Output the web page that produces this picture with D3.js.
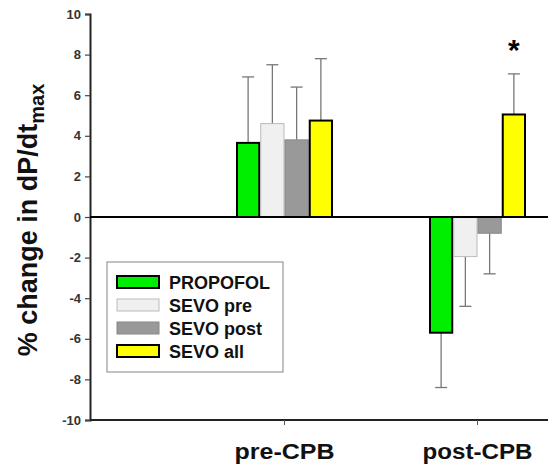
<!DOCTYPE html>
<html>
<head>
<meta charset="utf-8">
<script src="https://cdn.jsdelivr.net/npm/d3@7"></script>
<style>
  body { margin: 0; background: #fff; }
  svg { display: block; font-family: "Liberation Sans", Arial, sans-serif; font-weight: bold; }
</style>
</head>
<body>
<svg></svg>
<script>
// tamaño
var width = 548;
var height = 469;

// los datos
var categories = ["pre-CPB", "post-CPB"];
var series = ["PROPOFOL", "SEVO pre", "SEVO post", "SEVO all"];
var means = [
  [3.65, 4.6, 3.8, 4.75],
  [-5.7, -1.95, -0.8, 5.05]
];
var errTops = [
  [6.9, 7.5, 6.4, 7.8],
  [-8.4, -4.4, -2.8, 7.05]
];
var yTicks = [-10, -8, -6, -4, -2, 0, 2, 4, 6, 8, 10];
var colors = ["#00ee00", "#f0f0f0", "#999999", "#ffff00"];
var strokes = ["#000", "#bbb", "#888", "#000"];
var strokeW = [2, 1, 1, 2];

var svg = d3.select("svg")
  .attr("width", width)
  .attr("height", height);

var x0 = 90;
var y = d3.scaleLinear().domain([-10, 10]).range([420, 14]);
var x = d3.scaleBand().domain(categories).range([188, 574]);
var x1 = d3.scaleBand().domain(series).range([0, 97]);

// eje y
var yAxis = svg.append("g")
  .attr("transform", "translate(" + x0 + ",0)")
  .call(d3.axisLeft(y).tickValues(yTicks).tickSize(5).tickPadding(4)
    .tickFormat(function(d) { return String(d); }));
yAxis.select(".domain").attr("stroke", "#222").attr("stroke-width", 2);
yAxis.selectAll(".tick line").attr("stroke", "#444").attr("stroke-width", 1.2);
yAxis.selectAll(".tick text")
  .attr("font-size", 13)
  .attr("font-weight", "bold")
  .attr("fill", "#333");

// eje x abajo
svg.append("line")
  .attr("x1", x0).attr("x2", width)
  .attr("y1", y(-10)).attr("y2", y(-10))
  .attr("stroke", "#222").attr("stroke-width", 2);
var xg = svg.append("g");
xg.selectAll("line")
  .data(categories)
  .enter()
  .append("line")
  .attr("x1", function(d) { return x(d) + x.bandwidth() / 2; })
  .attr("x2", function(d) { return x(d) + x.bandwidth() / 2; })
  .attr("y1", y(-10))
  .attr("y2", y(-10) + 5)
  .attr("stroke", "#555");
xg.selectAll("text")
  .data(categories)
  .enter()
  .append("text")
  .attr("x", function(d) { return x(d) + x.bandwidth() / 2; })
  .attr("y", 459)
  .attr("text-anchor", "middle")
  .attr("font-size", 22)
  .attr("textLength", function(d, i) { return i == 0 ? 100 : 110; })
  .attr("lengthAdjust", "spacingAndGlyphs")
  .attr("fill", "#111")
  .text(function(d) { return d; });

// barras
var groups = svg.selectAll("g.cat")
  .data(categories)
  .enter()
  .append("g")
  .attr("class", "cat")
  .attr("transform", function(d) { return "translate(" + (x(d) + x.bandwidth() / 2 - 48.5) + ",0)"; });

// barras de error
groups.each(function(c, ci) {
  var g = d3.select(this);
  series.forEach(function(s, si) {
    var cx = x1(s) + x1.bandwidth() / 2;
    g.append("line")
      .attr("x1", cx).attr("x2", cx)
      .attr("y1", y(means[ci][si])).attr("y2", y(errTops[ci][si]))
      .attr("stroke", "#777").attr("stroke-width", 1.3);
    g.append("line")
      .attr("x1", cx - 6).attr("x2", cx + 6)
      .attr("y1", y(errTops[ci][si])).attr("y2", y(errTops[ci][si]))
      .attr("stroke", "#777").attr("stroke-width", 1.3);
  });
  g.selectAll("rect")
    .data(means[ci])
    .enter()
    .append("rect")
    .attr("x", function(d, i) { return x1(series[i]) + strokeW[i] / 2; })
    .attr("width", function(d, i) { return x1.bandwidth() - strokeW[i]; })
    .attr("y", function(d) { return y(Math.max(0, d)); })
    .attr("height", function(d) { return Math.abs(y(d) - y(0)); })
    .attr("fill", function(d, i) { return colors[i]; })
    .attr("stroke", function(d, i) { return strokes[i]; })
    .attr("stroke-width", function(d, i) { return strokeW[i]; });
});

// linea del cero
svg.append("line")
  .attr("x1", x0).attr("x2", width)
  .attr("y1", y(0)).attr("y2", y(0))
  .attr("stroke", "#000").attr("stroke-width", 2);

// asterisco
svg.append("text")
  .attr("x", x("post-CPB") + x.bandwidth() / 2 - 48.5 + x1("SEVO all") + x1.bandwidth() / 2)
  .attr("y", 60)
  .attr("text-anchor", "middle")
  .attr("font-size", 30)
  .text("*");

// titulo eje y
var title = svg.append("text")
  .attr("transform", "translate(37,220) rotate(-90)")
  .attr("text-anchor", "middle")
  .attr("font-size", 27)
  .attr("fill", "#111");
title.append("tspan").text("% change in dP/dt");
title.append("tspan").attr("font-size", 20).attr("dy", 7).text("max");

// leyenda
var legend = svg.append("g").attr("transform", "translate(107,262)");
legend.append("rect")
  .attr("width", 176).attr("height", 110)
  .attr("fill", "#fff").attr("stroke", "#999").attr("stroke-width", 1.2);
var li = legend.selectAll("g")
  .data(series)
  .enter()
  .append("g")
  .attr("transform", function(d, i) { return "translate(0," + (20 + i * 23) + ")"; });
li.append("rect")
  .attr("x", 10).attr("y", -6)
  .attr("width", 42).attr("height", 12)
  .attr("fill", function(d, i) { return colors[i]; })
  .attr("stroke", function(d, i) { return strokes[i]; })
  .attr("stroke-width", function(d, i) { return strokeW[i]; });
li.append("text")
  .attr("x", 62).attr("y", 6.5)
  .attr("font-size", 18)
  .attr("fill", "#111")
  .text(function(d) { return d; });
</script>
</body>
</html>
